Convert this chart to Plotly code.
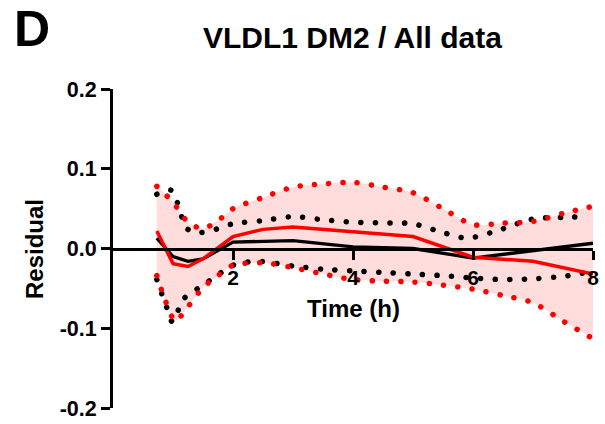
import plotly.graph_objects as go

# ---- data ----
red_t = [0.73, 1.0, 1.25, 1.5, 2.0, 2.5, 3.0, 5.0, 6.0, 7.0, 8.0]
red_y = [0.022, -0.019, -0.0225, -0.013, 0.015, 0.024, 0.027, 0.015, -0.011, -0.016, -0.032]

blk_t = [0.73, 1.0, 1.25, 1.5, 2.0, 3.0, 4.0, 5.0, 6.0, 8.0]
blk_y = [0.013, -0.010, -0.016, -0.013, 0.008, 0.010, 0.002, 0.0, -0.012, 0.0066]

red_up_t = [0.73, 1.0, 1.25, 1.5, 1.75, 2.0, 2.5, 3.0, 3.5, 4.0, 4.5, 5.0, 5.5, 6.0, 6.5, 7.0, 7.5, 8.0]
red_up_y = [0.078, 0.058, 0.033, 0.025, 0.035, 0.050, 0.064, 0.077, 0.081, 0.083, 0.077, 0.070, 0.050, 0.030, 0.032, 0.034, 0.044, 0.053]

red_lo_t = [0.73, 0.87, 1.04, 1.2, 1.5, 1.75, 2.0, 2.5, 3.0, 3.5, 4.0, 4.5, 5.0, 5.5, 6.0, 6.5, 7.0, 7.5, 8.0]
red_lo_y = [-0.034, -0.065, -0.091, -0.078, -0.049, -0.034, -0.021, -0.018, -0.024, -0.032, -0.039, -0.041, -0.042, -0.046, -0.051, -0.059, -0.068, -0.091, -0.113]

blk_up_t = [0.73, 0.97, 1.07, 1.23, 1.42, 1.64, 2.0, 2.5, 3.0, 3.5, 4.0, 4.5, 5.0, 5.5, 5.9, 6.35, 7.0, 7.5, 7.85]
blk_up_y = [0.068, 0.073, 0.058, 0.025, 0.020, 0.0225, 0.031, 0.035, 0.040, 0.036, 0.033, 0.032, 0.031, 0.020, 0.013, 0.021, 0.037, 0.039, 0.040]

blk_lo_t = [0.73, 0.9, 0.99, 1.18, 1.5, 1.75, 2.0, 2.4, 3.0, 3.5, 4.0, 4.5, 5.0, 5.5, 6.0, 6.5, 7.0, 7.5, 7.9]
blk_lo_y = [-0.039, -0.075, -0.092, -0.063, -0.046, -0.033, -0.021, -0.016, -0.022, -0.026, -0.028, -0.030, -0.032, -0.034, -0.037, -0.039, -0.038, -0.035, -0.030]

x_ticks = [2, 4, 6, 8]
y_ticks = [-0.2, -0.1, 0.0, 0.1, 0.2]
y_tick_text = ["-0.2", "-0.1", "0.0", "0.1", "0.2"]

TITLE = "VLDL1 DM2 / All data"
PANEL = "D"
X_LABEL = "Time (h)"
Y_LABEL = "Residual"

# ---- styling ----
FONT = "Liberation Sans, Arial, sans-serif"
RED = "#FF0000"
PINK = "rgb(255,221,221)"
W, H = 605, 424
ML, MR, MT, MB = 113, 12, 89, 16
PW, PH = W - ML - MR, H - MT - MB


def px(x):
    return (x - ML) / PW


def py(y):
    return (H - MB - y) / PH


fig = go.Figure()

# shaded band
fig.add_trace(go.Scatter(x=red_lo_t, y=red_lo_y, mode="lines",
                         line=dict(width=0, shape="spline", smoothing=0.8),
                         hoverinfo="skip", showlegend=False))
fig.add_trace(go.Scatter(x=red_up_t, y=red_up_y, mode="lines",
                         line=dict(width=0, shape="spline", smoothing=0.8),
                         fill="tonexty", fillcolor=PINK,
                         hoverinfo="skip", showlegend=False))

dot_red = dict(color=RED, width=5.5, dash="0.1px,14.2px", shape="spline", smoothing=0.8)
dot_blk = dict(color="black", width=5.5, dash="0.1px,14.5px", shape="spline", smoothing=0.8)

fig.add_trace(go.Scatter(x=blk_up_t, y=blk_up_y, mode="lines", line=dot_blk, showlegend=False))
fig.add_trace(go.Scatter(x=blk_lo_t, y=blk_lo_y, mode="lines", line=dot_blk, showlegend=False))
fig.add_trace(go.Scatter(x=red_up_t, y=red_up_y, mode="lines", line=dot_red, showlegend=False))
fig.add_trace(go.Scatter(x=red_lo_t, y=red_lo_y, mode="lines", line=dot_red, showlegend=False))

fig.add_trace(go.Scatter(x=blk_t, y=blk_y, mode="lines",
                         line=dict(color="black", width=3.3), showlegend=False))
fig.add_trace(go.Scatter(x=red_t, y=red_y, mode="lines",
                         line=dict(color=RED, width=3.5), showlegend=False))

fig.update_layout(
    template="none",
    width=W, height=H,
    margin=dict(l=ML, r=MR, t=MT, b=MB, pad=0),
    paper_bgcolor="white", plot_bgcolor="white",
    showlegend=False,
    font=dict(family=FONT, color="black"),
    xaxis=dict(range=[0, 8], tickvals=x_ticks, ticktext=[str(v) for v in x_ticks],
               showgrid=False, zeroline=False, showline=True, linewidth=3, linecolor="black",
               ticks="outside", ticklen=9, tickwidth=3, tickcolor="black", automargin=False,
               tickfont=dict(family=FONT, size=21, weight="bold", color="black"),
               anchor="free", position=0.5),
    yaxis=dict(range=[-0.2, 0.2], tickvals=y_ticks, ticktext=y_tick_text,
               showgrid=False, zeroline=False, showline=True, linewidth=3, linecolor="black",
               ticks="outside", ticklen=9, tickwidth=3, tickcolor="black", automargin=False,
               tickfont=dict(family=FONT, size=21.5, weight="bold", color="black")),
)

ann = dict(xref="paper", yref="paper", showarrow=False)
fig.add_annotation(text=PANEL, x=px(12), y=py(29), xanchor="left", yanchor="middle",
                   font=dict(family=FONT, color="black", size=50, weight="bold"), **ann)
fig.add_annotation(text=TITLE, x=px(352), y=py(37), xanchor="center", yanchor="middle",
                   font=dict(family=FONT, color="black", size=30, weight="bold"), **ann)
fig.add_annotation(text=X_LABEL, x=px(353), y=py(308), xanchor="center", yanchor="middle",
                   font=dict(family=FONT, color="black", size=24, weight="bold"), **ann)
fig.add_annotation(text=Y_LABEL, x=px(35), y=py(249), xanchor="center", yanchor="middle",
                   textangle=-90,
                   font=dict(family=FONT, color="black", size=24, weight="bold"), **ann)

post = """
document.body.style.margin='0';
document.querySelectorAll('path.js-line').forEach(function(p){
  var d = p.style.strokeDasharray;
  if (d && d !== 'none' && d !== '') { p.style.strokeLinecap = 'round'; }
});
"""
fig.write_html("out.html", config={"displayModeBar": False}, post_script=post)
